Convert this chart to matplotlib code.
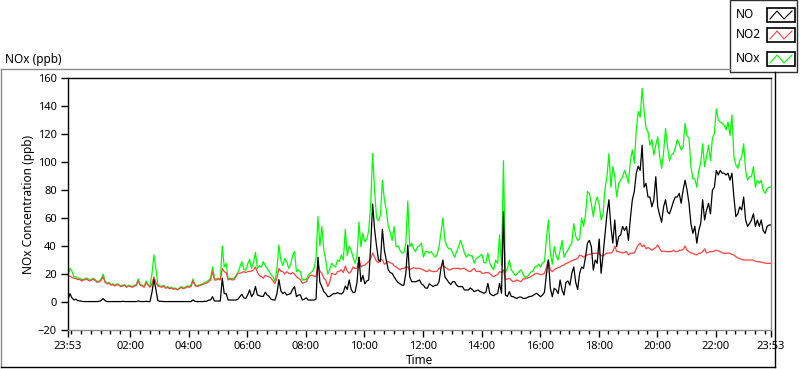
import matplotlib.pyplot as plt
import matplotlib.lines as mlines
import matplotlib.patches as mpatches
import numpy as np

# readings every 4 min, starting 23:53
step_min = 4

no2 = [18, 18.5, 17.6, 17, 16.7, 16, 16.2, 15, 15.7, 16.5, 16, 15, 15.7, 16.5, 15.2, 14, 14.5, 15.5, 18, 14,
       12.9, 13.5, 12, 12.5, 11.4, 12.5, 12, 11, 11.4, 12, 10.5, 11.5, 11, 10.5, 11.4, 12, 15, 12, 11.4, 10.5,
       13.8, 12, 10.5, 13, 18, 14, 11.4, 11, 10.5, 11.5, 9.8, 10.5, 9.5, 10, 9, 9.5, 8.6, 9.5, 10.5, 9.5,
       10, 11, 10.5, 11, 15.2, 12, 11, 11.5, 12, 12.5, 13.3, 13.5,
       14.5, 15.7, 21.7, 15.7, 15.7, 16.5, 15.7, 24, 21.7, 21, 15.7, 16.5, 15.7, 16, 18, 20.5, 20.5, 21, 21.7, 21,
       21.7, 22, 22, 23, 25, 21, 19, 18, 17, 19, 18.5, 18, 17, 15, 13.3, 17, 24, 22, 21.7, 20,
       21.7, 20.5, 20, 21, 20, 18, 17, 16, 13.3, 14, 14.5, 17, 19, 19, 18.5, 18, 27.6, 22, 20.5, 17,
       15.7, 11, 14, 20.5, 20, 19.5, 21.7, 22, 23, 21, 25.7, 22,
       20.5, 22, 25, 24, 24, 32, 25, 26, 26.4, 27.6, 29, 31, 35, 32, 29, 28, 31, 30, 27, 28,
       29, 28, 27.6, 26, 25, 24, 23, 24, 24, 25, 25, 23, 24, 24.5, 24, 24, 24, 23.5, 23, 22,
       21.7, 23, 22, 21.7, 21.7, 22, 24, 25, 26.4, 25, 24, 23, 23, 24, 24, 24, 24, 23.5, 24, 24,
       23, 22, 21.7, 23, 24, 22, 21.7, 22, 20.5, 20.5, 21, 21,
       20.5, 19, 18, 19, 19.5, 21.7, 21, 23, 16, 16.5, 17, 15.5, 14.5, 15, 15.7, 15, 14.5, 16.5, 16.5, 17,
       17.5, 18, 19, 20, 20.5, 20, 19.5, 20, 20.5, 25, 30, 23, 21.7, 23, 24, 24.5, 25, 26, 26.4, 27.5,
       28, 28.8, 29.5, 30, 30.5, 31, 33.6, 33, 32, 33, 33.6, 34, 34.5, 34.8, 34.8, 34.8, 34.8, 33, 33, 34,
       35, 35, 35, 36, 40, 36, 36, 35.5, 35, 35.5, 36, 33.6,
       35, 34.8, 35, 38, 40.7, 42, 39.5, 40.7, 38, 39, 38, 37, 38, 39, 40.7, 38, 36, 36.5, 36, 36,
       36, 36, 37, 36, 36, 37, 37, 37.5, 40, 37, 36, 35, 34.8, 34, 33.6, 34.8, 34.8, 36, 38, 35,
       35.5, 36, 36, 36.5, 37, 36.5, 36, 35, 34.8, 34.8, 35, 34.8, 34, 33.6, 32.4, 31.5, 31, 30.5, 30, 30,
       30, 30, 30, 30, 29, 28.8, 28.8, 28.5, 28, 27.8, 27.6, 27.6, 27.6]

no = [1.5, 6, 3, 1.5, 2, 1, 0.8, 0.5, 0.3, 0.3, 0.3, 0.3, 0.3, 0.3, 0.3, 0.3, 0.5, 1, 2.5, 1,
      0.3, 0.3, 0.3, 0.3, 0.3, 0.3, 0.3, 0.3, 0.5, 0.3, 0.3, 0.3, 0.3, 0.3, 0.3, 0.3, 0.8, 0.3, 0.3, 0.3,
      0.5, 0.3, 0.3, 7, 16, 9, 1, 0.5, 0.5, 0.3, 0.3, 0.3, 0.3, 0.3, 0.3, 0.3, 0.3, 0.3, 0.3, 0.3,
      0.3, 0.3, 0.3, 0.3, 1.5, 0.5, 0.3, 0.3, 0.3, 0.3, 0.5, 0.5,
      1.4, 1.4, 3.8, 0.7, 0.7, 0.7, 0.7, 17, 6, 6, 1.4, 1.4, 1.4, 1.4, 1.4, 2, 3.8, 5.5, 3, 2.5,
      5, 8.6, 3.8, 6, 11, 5, 4.5, 4, 4, 7, 5, 4, 2, 1.5, 1.4, 6, 16, 8, 6, 7,
      5, 5.5, 6, 9, 11, 3.8, 5, 5, 1.4, 2, 3, 1.4, 1.4, 1.4, 1.4, 2, 32, 14, 11, 7.4,
      6, 3.8, 4, 5, 6, 6, 6.7, 6, 5.7, 7, 11.4, 9,
      15.7, 9, 6.7, 7, 14, 32, 14.5, 19, 13, 15, 15.7, 40, 70, 52, 40, 30, 29, 52, 37, 30,
      23, 21, 20.5, 18, 15.7, 14, 13, 12, 12, 20.5, 40.7, 18, 14.5, 14.5, 14.5, 15, 15.7, 13, 12, 10,
      9.8, 13, 12, 11, 12, 12, 14.5, 24, 30, 18, 16, 14, 12.4, 14.5, 14.5, 12, 11, 11, 11, 8.6,
      8.6, 8.6, 10, 9, 7.4, 8, 8.6, 7.4, 7, 6.2, 7, 13.3,
      6.2, 5, 4.5, 5.5, 6, 13.3, 6.2, 64.5, 5, 4, 7.4, 4, 3.8, 3, 2.6, 3.5, 3.5, 2.6, 2.6, 3,
      3.8, 4, 4.5, 5.5, 6.2, 5, 3.8, 5, 7, 20, 30, 10, 3.8, 9.8, 8.6, 6, 15.7, 8.6, 5, 14,
      15, 12, 20.5, 25, 14, 9, 20.5, 25, 24, 32, 42, 44, 39.5, 22.8, 30, 27.6, 45, 20.5, 33.6, 48,
      63, 73, 54, 42, 58.6, 39.5, 46.7, 48, 54, 51, 54, 44,
      60, 73, 79, 92, 97, 94, 112, 82, 84.8, 75, 75, 68, 73, 89.5, 68, 62, 57, 68, 73, 64.5,
      63, 67, 71.7, 75, 75, 77.6, 70.5, 80, 87, 80, 70.5, 56, 49, 54, 42, 51, 56, 73, 58.6, 65.7,
      70.5, 63, 80, 82, 94, 90.7, 94, 92, 92, 90.7, 92, 87, 92, 75, 61, 63, 68, 65.7, 75, 58.6,
      54, 56, 58.6, 63, 54, 58.6, 54, 58.6, 51, 49, 54, 55, 55]

nox = [19, 24, 22, 18, 18, 17, 17, 16, 16, 17, 17, 15.5, 16, 17, 15.7, 14.5, 15, 16.5, 20, 15,
       13.3, 14, 12.5, 13, 12, 13, 12.5, 11.5, 12, 12.5, 11, 12, 11.5, 11, 12, 12.5, 16.4, 12.5, 12, 11,
       15, 12.5, 11, 20, 33.6, 24, 12.5, 11.5, 11, 12, 10.2, 11, 10, 10.5, 9.5, 10, 9, 10, 11, 10,
       10.5, 11.5, 11, 12, 16.5, 12.5, 11.5, 12, 12.5, 13, 14, 14.5,
       15.5, 17, 25, 17, 16.5, 17, 16.5, 40, 25, 27.6, 16.5, 17, 16.5, 17, 19, 21, 25, 28.8, 23.5, 22.5,
       27, 30.5, 24, 28, 35.5, 24, 26, 25, 28.8, 26, 24, 21.7, 19.5, 18, 14.5, 24, 40.7, 30, 26, 31,
       28.8, 24, 27, 33, 36, 21.7, 23, 21.7, 15.7, 16, 16, 19, 20.5, 21.7, 24, 31, 61, 40, 54, 37,
       30, 20, 23, 27.6, 26, 25, 30, 29, 33.6, 30, 52, 33,
       40, 37, 32, 27.6, 33, 57, 39.5, 49, 43, 45, 51, 70, 106, 80, 60, 58, 62, 87, 73, 66,
       54, 50, 44, 54, 39.5, 40, 37, 35, 35, 42, 72, 39.5, 42, 38, 36, 39.5, 40, 42, 32, 36,
       36, 35, 36, 34, 32, 34, 39.5, 50, 60, 44, 40, 38, 38, 35, 32, 36, 39.5, 44, 40, 35,
       32, 34, 33, 33, 27.6, 31, 32, 33, 34, 28, 28, 35,
       27.6, 25, 23, 30, 27.6, 48, 26, 101, 21, 24, 30, 23, 21, 19, 20, 22, 23, 20, 17.5, 18,
       19.5, 21.5, 22, 25, 25.5, 27, 25, 28, 28.8, 45, 58.6, 35, 27, 39.5, 33, 30, 37, 44, 32, 35,
       37, 40, 42, 56, 47, 44, 45, 60, 54, 62, 79, 77.6, 70, 61, 70.5, 75, 70, 58.6, 63, 81,
       89.5, 106, 82, 96.7, 89.5, 75, 84.8, 87, 89.5, 94, 90, 85,
       101, 108.6, 99, 123, 136, 132, 152.6, 137, 124, 121.7, 112, 116, 105, 112, 118, 103.8, 95.5, 107, 124, 111,
       101, 105, 106, 110, 116, 113, 108.6, 111, 127.6, 119, 117, 96.7, 88, 88, 82, 94, 99, 113, 96.7, 104,
       112, 101, 117, 120.5, 138, 130, 128.6, 127.6, 126.4, 123, 128.6, 119, 133.6, 104, 98, 95.5, 101, 103.8, 113, 94,
       87, 89.5, 89.5, 96.7, 82, 87, 84.8, 87, 80, 77.6, 81, 82, 82]

series_names = ['NO', 'NO2', 'NOx']
series_colors = ['#000000', '#ff4040', '#00ff00']

# minutes after 23:53 for the labelled ticks
major_ticks = [0, 127, 247, 367, 487, 607, 727, 847, 967, 1087, 1207, 1327, 1440]
major_labels = ['23:53', '02:00', '04:00', '06:00', '08:00', '10:00', '12:00',
                '14:00', '16:00', '18:00', '20:00', '22:00', '23:53']

assert len(no) == len(no2) == len(nox) == 361
t = np.arange(len(no)) * step_min

plt.rcParams['font.family'] = ['Noto Sans', 'DejaVu Sans']
plt.rcParams['font.size'] = 8

W, H = 800, 369
fig = plt.figure(figsize=(W / 100, H / 100), dpi=100)

def fx(x):
    return x / W

def fy(y):
    return 1 - y / H

ax = fig.add_axes([fx(68), fy(330), fx(771) - fx(68), fy(78) - fy(330)])
ax.plot(t, nox, color=series_colors[2], lw=0.9, zorder=1)
ax.plot(t, no2, color=series_colors[1], lw=0.9, zorder=2)
ax.plot(t, no, color=series_colors[0], lw=0.9, zorder=3)

ax.set_xlim(0, 1440)
ax.set_ylim(-20, 160)
ax.set_yticks(range(-20, 161, 20))
ax.set_xticks(major_ticks)
ax.set_xticklabels(major_labels)
ax.set_xticks(np.arange(7, 1440, 20), minor=True)
ax.tick_params(axis='x', which='major', length=5, width=1, pad=3, color='black')
ax.tick_params(axis='x', which='minor', length=3, width=1, color='black')
ax.tick_params(axis='y', length=5, width=1, pad=3, color='black')

ax.spines['left'].set_color('black')
ax.spines['top'].set_color('black')
ax.spines['right'].set_color('#8c8c8c')
ax.spines['bottom'].set_color('#8c8c8c')
for s in ax.spines.values():
    s.set_linewidth(1)

ax.set_ylabel('NOx Concentration (ppb)', fontsize=8.5, labelpad=2)
ax.set_xlabel('Time', fontsize=8.5, labelpad=1)

# outer chart frame
fig.add_artist(mlines.Line2D([fx(0.5), fx(0.5)], [fy(367), fy(69)], color='#8c8c8c', lw=1))
fig.add_artist(mlines.Line2D([fx(0.5), fx(730)], [fy(69), fy(69)], color='#8c8c8c', lw=1))
fig.add_artist(mlines.Line2D([fx(774.5), fx(774.5)], [fy(72), fy(367)], color='black', lw=1))
fig.add_artist(mlines.Line2D([fx(0.5), fx(774.5)], [fy(367), fy(367)], color='black', lw=1))

fig.text(fx(5), fy(60), 'NOx (ppb)', fontsize=8.5, va='center', ha='left')

# legend panel
fig.add_artist(mpatches.Rectangle((fx(730), fy(72)), fx(797) - fx(730), fy(0) - fy(72),
                                  facecolor='white', edgecolor='#303030', lw=1))
rows = [15, 35, 59]
for name, col, yc in zip(series_names, series_colors, rows):
    fig.text(fx(736), fy(yc), name, fontsize=8.5, va='center', ha='left')
    fig.add_artist(mpatches.Rectangle((fx(767), fy(yc + 7)), fx(795) - fx(767), fy(yc - 7) - fy(yc + 7),
                                      facecolor='white', edgecolor='black', lw=1.2))
    zx = [770, 777, 784, 792]
    zy = [yc + 4, yc - 4, yc + 4, yc - 4]
    fig.add_artist(mlines.Line2D([fx(v) for v in zx], [fy(v) for v in zy], color=col, lw=0.8))

fig.savefig('out.png', dpi=100)
